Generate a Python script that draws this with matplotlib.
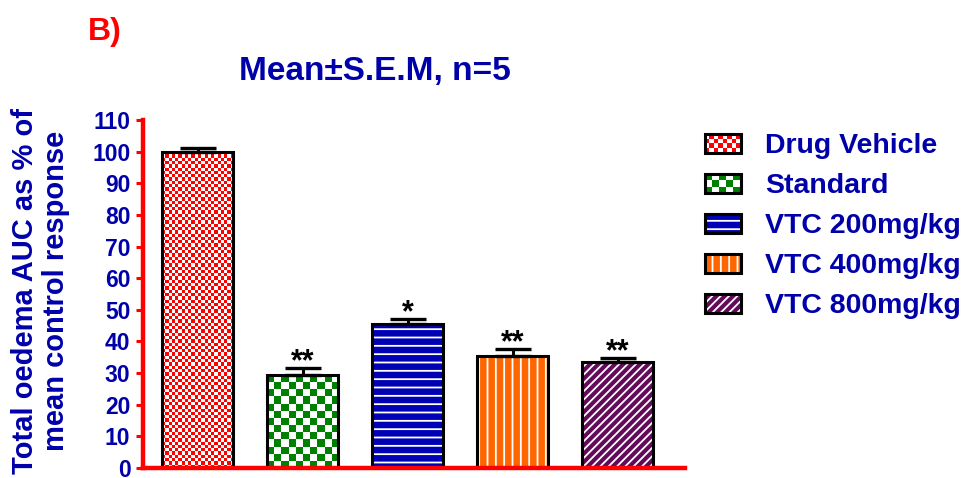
import numpy as np
import matplotlib
matplotlib.use("Agg")
import matplotlib.pyplot as plt
from matplotlib.patches import Rectangle
from matplotlib.legend_handler import HandlerBase

# 各组数据（均值 ± SEM，n=5）
groups = ["Drug Vehicle", "Standard", "VTC 200mg/kg", "VTC 400mg/kg", "VTC 800mg/kg"]
means = [100.0, 29.3, 45.6, 35.5, 33.6]
sems = [1.1, 2.2, 1.6, 2.0, 1.2]
stars = ["", "**", "*", "**", "**"]
yticks = list(range(0, 111, 10))

文字蓝 = "#0000AA"
轴红 = "#FF0000"

# 每组的填充样式：棋盘格或白色细线
样式 = [
    {"kind": "checker", "color": "#FF0000", "cell": 3.3, "leg": (8, 4)},
    {"kind": "checker", "color": "#008000", "cell": 7.0, "leg": (5, 3)},
    {"kind": "hatch", "color": "#0000B4", "hatch": "--"},
    {"kind": "hatch", "color": "#FF6600", "hatch": "||"},
    {"kind": "hatch", "color": "#640A5A", "hatch": "////"},
]

plt.rcParams["font.family"] = ["Liberation Sans", "DejaVu Sans"]
plt.rcParams["font.weight"] = "bold"
plt.rcParams["hatch.linewidth"] = 1.3


def checker_rgb(color, nrows, ncols):
    rgb = np.array(matplotlib.colors.to_rgb(color))
    mask = (np.add.outer(np.arange(nrows), np.arange(ncols)) % 2 == 0)
    img = np.ones((nrows, ncols, 3))
    img[mask] = rgb
    return img


class CheckerHandler(HandlerBase):
    def __init__(self, color, ncols, nrows):
        super().__init__()
        self.color, self.ncols, self.nrows = color, ncols, nrows

    def create_artists(self, legend, orig_handle, xdescent, ydescent,
                       width, height, fontsize, trans):
        x0, y0 = -xdescent, -ydescent
        arts = [Rectangle((x0, y0), width, height, facecolor="white",
                          edgecolor="none", transform=trans)]
        cw, ch = width / self.ncols, height / self.nrows
        for i in range(self.nrows):
            for j in range(self.ncols):
                if (i + j) % 2 == 0:
                    arts.append(Rectangle((x0 + j * cw, y0 + i * ch), cw, ch,
                                          facecolor=self.color, edgecolor="none",
                                          transform=trans))
        arts.append(Rectangle((x0, y0), width, height, facecolor="none",
                              edgecolor="black", linewidth=2.2, transform=trans))
        return arts


class HatchHandler(HandlerBase):
    def __init__(self, color, hatch):
        super().__init__()
        self.color, self.hatch = color, hatch

    def create_artists(self, legend, orig_handle, xdescent, ydescent,
                       width, height, fontsize, trans):
        x0, y0 = -xdescent, -ydescent
        fill = Rectangle((x0, y0), width, height, facecolor=self.color,
                         edgecolor="white", linewidth=0, hatch=self.hatch,
                         transform=trans)
        edge = Rectangle((x0, y0), width, height, facecolor="none",
                         edgecolor="black", linewidth=2.2, transform=trans)
        return [fill, edge]


fig = plt.figure(figsize=(9.64, 4.78), dpi=100)
ax = fig.add_axes([0.1483, 0.0209, 0.5622, 0.728])

x = np.arange(len(groups))
宽度 = 0.68
ax.set_xlim(-0.52, 4.64)
ax.set_ylim(0, 110)

# 底色与斜线填充
填充色 = ["white" if s["kind"] == "checker" else s["color"] for s in 样式]
填充线 = [s.get("hatch", None) for s in 样式]
fills = ax.bar(x, means, width=宽度, color=填充色, edgecolor="white",
               linewidth=0, zorder=1)
for bar, h in zip(fills, 填充线):
    if h:
        bar.set_hatch(h)

# 棋盘格用图像贴在柱内
px_x = ax.transData.transform((1, 0))[0] - ax.transData.transform((0, 0))[0]
px_y = ax.transData.transform((0, 1))[1] - ax.transData.transform((0, 0))[1]
for bar, s in zip(fills, 样式):
    if s["kind"] != "checker":
        continue
    bx, bw, bh = bar.get_x(), bar.get_width(), bar.get_height()
    ncols = max(int(round(bw * px_x / s["cell"])), 1)
    nrows = max(int(round(bh * px_y / s["cell"])), 1)
    im = ax.imshow(checker_rgb(s["color"], nrows, ncols),
                   extent=(bx, bx + bw, 0, bh), aspect="auto",
                   interpolation="nearest", zorder=1.5)
    im.set_clip_path(bar)

ax.set_xlim(-0.52, 4.64)
ax.set_ylim(0, 110)

# 黑色外框
ax.bar(x, means, width=宽度, facecolor="none", edgecolor="black",
       linewidth=2.2, zorder=2)

# 只画向上的误差线
ax.errorbar(x, means, yerr=[np.zeros(len(sems)), sems], fmt="none",
            ecolor="black", elinewidth=2.2, capsize=13, capthick=2.4, zorder=3)

for xi, m, e, s in zip(x, means, sems, stars):
    if s:
        ax.annotate(s, (xi, m + e), xytext=(0, -1.5), textcoords="offset points",
                    ha="center", va="baseline", fontsize=22,
                    fontweight="bold", color="black")

# 坐标轴
for side in ["top", "right"]:
    ax.spines[side].set_visible(False)
for side in ["left", "bottom"]:
    ax.spines[side].set_color(轴红)
    ax.spines[side].set_linewidth(3.2)
ax.set_xticks([])
ax.set_yticks(yticks)
ax.set_yticklabels([str(t) for t in yticks])
ax.tick_params(axis="y", colors=轴红, length=5, width=2.2, pad=4,
               labelsize=16.5, labelcolor=文字蓝)
for lab in ax.get_yticklabels():
    lab.set_fontweight("bold")

ax.set_ylabel("Total oedema AUC as % of\nmean control response",
              fontsize=21, fontweight="bold", color=文字蓝, linespacing=1.15)
ax.yaxis.set_label_coords(-0.134, 0.51)

fig.text(0.389, 0.833, "Mean±S.E.M, n=5", ha="center", va="baseline",
         fontsize=24, fontweight="bold", color=文字蓝)
fig.text(0.091, 0.916, "B)", ha="left", va="baseline",
         fontsize=23, fontweight="bold", color=轴红)

# 图例
handles = [Rectangle((0, 0), 1, 1) for _ in groups]
handler_map = {}
for h, s in zip(handles, 样式):
    if s["kind"] == "checker":
        handler_map[h] = CheckerHandler(s["color"], *s["leg"])
    else:
        handler_map[h] = HatchHandler(s["color"], s["hatch"])
fig.legend(handles, groups, handler_map=handler_map, loc="upper left",
           bbox_to_anchor=(0.731, 0.721), frameon=False, borderpad=0,
           borderaxespad=0, handlelength=1.26, handleheight=0.66,
           handletextpad=0.85, labelspacing=0.49,
           prop={"weight": "bold", "size": 20.5}, labelcolor=文字蓝)

fig.savefig("out.png", dpi=100)
